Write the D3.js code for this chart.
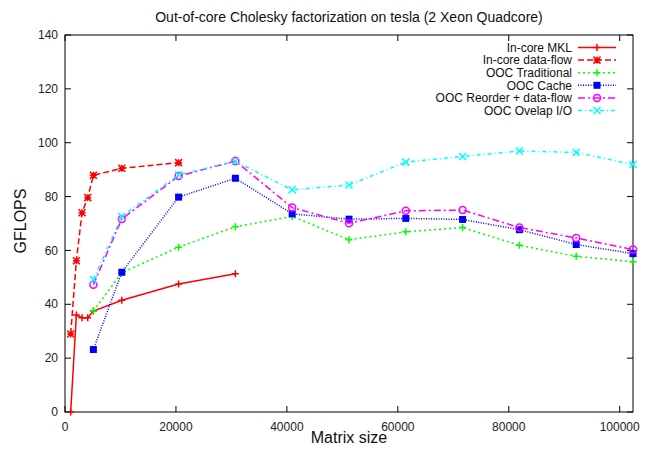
<!DOCTYPE html>
<html>
<head>
<meta charset="utf-8">
<script src="https://cdn.jsdelivr.net/npm/d3@7"></script>
<style>
  html, body { margin: 0; padding: 0; background: #fff; }
  svg { display: block; font-family: "Liberation Sans", Arial, sans-serif; }
</style>
</head>
<body>
<div id="chart"></div>
<script>
// matrix sizes (x values)
const sizesIncore = [1024, 2048, 3072, 4096, 5120, 10240, 20480, 30720];
const sizesOOC = [5120, 10240, 20480, 30720, 40960, 51200, 61440, 71680, 81920, 92160, 102400];

// GFLOPS per series
const incoreMKL = [0, 36, 35, 35, 37.5, 41.5, 47.5, 51.3];
const incoreDataflow = [29, 56.2, 74, 79.6, 87.9, 90.5, 92.6];
const oocTraditional = [37.5, 51.7, 61.2, 68.8, 72.6, 64, 66.9, 68.5, 61.9, 57.8, 55.8];
const oocCache = [23.2, 51.9, 79.8, 86.8, 73.6, 71.6, 71.9, 71.5, 67.7, 62.2, 58.8];
const oocReorder = [47.3, 71.7, 87.6, 93.2, 75.9, 70.1, 74.7, 75, 68.5, 64.6, 60.3];
const oocOverlap = [49.2, 72.6, 88.1, 93.1, 82.5, 84.3, 92.8, 94.9, 96.9, 96.4, 91.9];

const xTicks = [0, 20000, 40000, 60000, 80000, 100000];
const yTicks = [0, 20, 40, 60, 80, 100, 120, 140];

const series = [
  { name: "In-core MKL", xs: sizesIncore, ys: incoreMKL, color: "#ff0000", dash: null, mark: "plus" },
  { name: "In-core data-flow", xs: sizesIncore, ys: incoreDataflow, color: "#ff0000", dash: "6,3", mark: "star" },
  { name: "OOC Traditional", xs: sizesOOC, ys: oocTraditional, color: "#00ff00", dash: "2,3", mark: "plus" },
  { name: "OOC Cache", xs: sizesOOC, ys: oocCache, color: "#0000ff", dash: "1,1.5", mark: "square" },
  { name: "OOC Reorder + data-flow", xs: sizesOOC, ys: oocReorder, color: "#ff00ff", dash: "7,3,2,3", mark: "circle" },
  { name: "OOC Ovelap I/O", xs: sizesOOC, ys: oocOverlap, color: "#00ffff", dash: "4,3,1,3", mark: "cross" }
];

const W = 645, H = 451;
const margin = { top: 35, right: 12, bottom: 39, left: 65 };
const iw = W - margin.left - margin.right;
const ih = H - margin.top - margin.bottom;

const svg = d3.select("#chart").append("svg")
  .attr("width", W).attr("height", H);

const x = d3.scaleLinear().domain([0, 102400]).range([0, iw]);
const y = d3.scaleLinear().domain([0, 140]).range([ih, 0]);

const g = svg.append("g").attr("transform", `translate(${margin.left},${margin.top})`);

// ticks inward on all four sides (gnuplot style)
const tl = 6;
yTicks.forEach(v => {
  g.append("line").attr("x1", 0).attr("x2", tl).attr("y1", y(v)).attr("y2", y(v)).attr("stroke", "#000");
  g.append("line").attr("x1", iw).attr("x2", iw - tl).attr("y1", y(v)).attr("y2", y(v)).attr("stroke", "#000");
  g.append("text").attr("x", -7).attr("y", y(v)).attr("dy", "0.35em")
    .attr("text-anchor", "end").attr("font-size", 12).attr("fill", "#222").text(v);
});
xTicks.forEach(v => {
  g.append("line").attr("x1", x(v)).attr("x2", x(v)).attr("y1", ih).attr("y2", ih - tl).attr("stroke", "#000");
  g.append("line").attr("x1", x(v)).attr("x2", x(v)).attr("y1", 0).attr("y2", tl).attr("stroke", "#000");
  g.append("text").attr("x", x(v)).attr("y", ih + 19)
    .attr("text-anchor", "middle").attr("font-size", 12).attr("fill", "#222").text(v);
});

g.append("rect").attr("width", iw).attr("height", ih)
  .attr("fill", "none").attr("stroke", "#000").attr("stroke-width", 1);

// titles
svg.append("text").attr("x", margin.left + iw / 2).attr("y", 22)
  .attr("text-anchor", "middle").attr("font-size", 14).attr("fill", "#111")
  .text("Out-of-core Cholesky factorization on tesla (2 Xeon Quadcore)");
svg.append("text").attr("x", margin.left + iw / 2).attr("y", 443)
  .attr("text-anchor", "middle").attr("font-size", 16).attr("fill", "#111").text("Matrix size");
svg.append("text").attr("transform", "translate(26,221) rotate(-90)")
  .attr("text-anchor", "middle").attr("font-size", 16).attr("fill", "#111").text("GFLOPS");

function marker(sel, type, color, cx, cy) {
  const s = 3.5;
  if (type === "plus") {
    sel.append("path").attr("d", `M${cx - s},${cy}H${cx + s}M${cx},${cy - s}V${cy + s}`)
      .attr("stroke", color).attr("stroke-width", 1.5).attr("fill", "none");
  } else if (type === "cross") {
    sel.append("path").attr("d", `M${cx - s},${cy - s}L${cx + s},${cy + s}M${cx - s},${cy + s}L${cx + s},${cy - s}`)
      .attr("stroke", color).attr("stroke-width", 1.5).attr("fill", "none");
  } else if (type === "star") {
    sel.append("path").attr("d", `M${cx - s},${cy}H${cx + s}M${cx},${cy - s}V${cy + s}M${cx - s},${cy - s}L${cx + s},${cy + s}M${cx - s},${cy + s}L${cx + s},${cy - s}`)
      .attr("stroke", color).attr("stroke-width", 1.5).attr("fill", "none");
  } else if (type === "square") {
    sel.append("rect").attr("x", cx - s).attr("y", cy - s).attr("width", 2 * s).attr("height", 2 * s)
      .attr("fill", color);
  } else if (type === "circle") {
    sel.append("circle").attr("cx", cx).attr("cy", cy).attr("r", s)
      .attr("stroke", color).attr("stroke-width", 1.5).attr("fill", "none");
  }
}

const line = d3.line().x(d => x(d[0])).y(d => y(d[1]));

series.forEach(s => {
  const pts = s.ys.map((v, i) => [s.xs[i], v]);
  g.append("path").attr("d", line(pts))
    .attr("fill", "none").attr("stroke", s.color).attr("stroke-width", 1.5)
    .attr("stroke-dasharray", s.dash);
  const mg = g.append("g");
  pts.forEach(p => marker(mg, s.mark, s.color, x(p[0]), y(p[1])));
});

// legend
const lg = svg.append("g");
series.forEach((s, i) => {
  const ly = 47.5 + i * 12.6;
  lg.append("text").attr("x", 572).attr("y", ly).attr("dy", "0.35em")
    .attr("text-anchor", "end").attr("font-size", 12).attr("fill", "#111").text(s.name);
  lg.append("line").attr("x1", 578).attr("x2", 616).attr("y1", ly).attr("y2", ly)
    .attr("stroke", s.color).attr("stroke-width", 1.5).attr("stroke-dasharray", s.dash);
  marker(lg, s.mark, s.color, 597, ly);
});
</script>
</body>
</html>
